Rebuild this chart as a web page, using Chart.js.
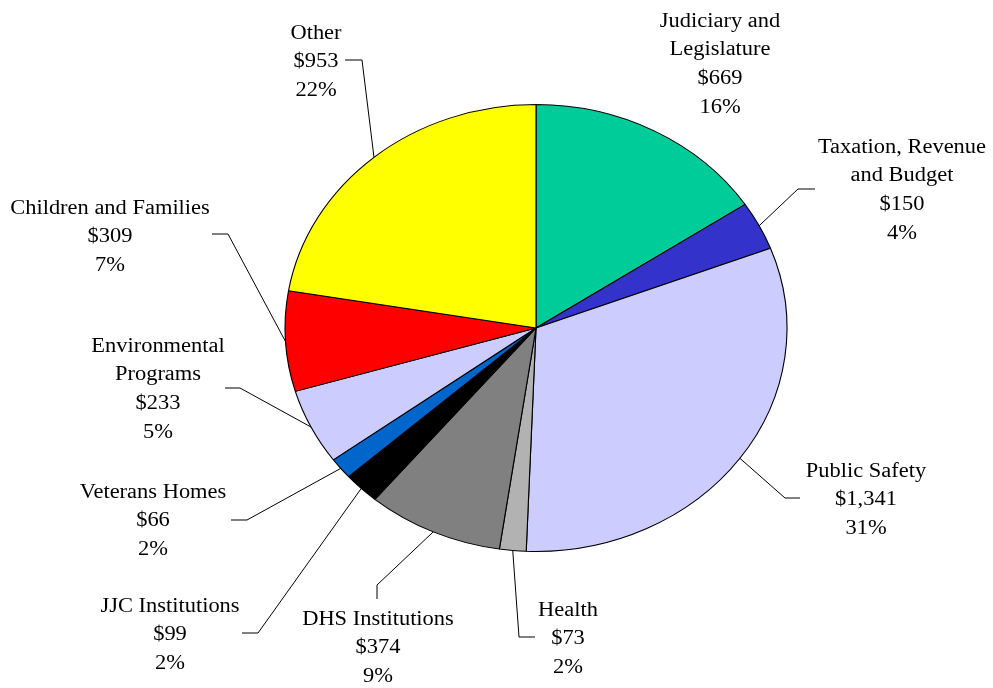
<!DOCTYPE html>
<html>
<head>
<meta charset="utf-8">
<script src="https://cdn.jsdelivr.net/npm/chart.js@4.4.1/dist/chart.umd.min.js"></script>
<style>
  body { margin: 0; background: #fff; }
  #wrap { width: 993px; height: 688px; position: relative; }
</style>
</head>
<body>
<div id="wrap"><canvas id="budget_pie"></canvas></div>
<script>
// slices, clockwise from 12 o'clock
let categories = ["Judiciary and Legislature", "Taxation, Revenue and Budget", "Public Safety", "Health",
    "DHS Institutions", "JJC Institutions", "Veterans Homes", "Environmental Programs",
    "Children and Families", "Other"];
let amounts = [669, 150, 1341, 73, 374, 99, 66, 233, 309, 953];
// how each category label is broken into lines
let labelLines = [
    ["Judiciary and", "Legislature"],
    ["Taxation, Revenue", "and Budget"],
    ["Public Safety"],
    ["Health"],
    ["DHS Institutions"],
    ["JJC Institutions"],
    ["Veterans Homes"],
    ["Environmental", "Programs"],
    ["Children and Families"],
    ["Other"]
];

let sliceColors = ["#00CC99", "#3333CC", "#CCCCFF", "#B2B2B2", "#808080",
    "#000000", "#0066CC", "#CCCCFF", "#FF0000", "#FFFF00"];

// label placement: text centre x, first line y, leader elbow x/y, leader end x/y
let labelPlace = [
    [720, 21.5, null, null, null, null],
    [902, 147.5, 798, 189, 815, 189],
    [866, 471.5, 785, 498, 800, 498],
    [568, 610.5, 519, 637, 535, 637],
    [378, 619.5, 377, 585, 377, 599],
    [170, 606.5, 258, 633, 242, 633],
    [153, 492.5, 247, 520, 231, 520],
    [158, 346.5, 240, 388, 225, 388],
    [110, 208.5, 228, 234, 212, 234],
    [316, 33.5, 362, 60, 345, 60]
];

const stretchX = 251 / 223.5; // the whole picture is a little wider than tall
const lineGap = 28.7;

let total = amounts.reduce((a, b) => a + b, 0);

const pieLabels = {
    id: "pieLabels",
    beforeDatasetsDraw(chart) {
        let arc = chart.getDatasetMeta(0).data[0];
        let ctx = chart.ctx;
        ctx.save();
        ctx.translate(arc.x, arc.y);
        ctx.scale(stretchX, 1);
        ctx.translate(-arc.x, -arc.y);
    },
    afterDatasetsDraw(chart) {
        let ctx = chart.ctx;
        ctx.restore();
        let arcs = chart.getDatasetMeta(0).data;
        ctx.save();
        ctx.fillStyle = "#000";
        ctx.strokeStyle = "#000";
        ctx.lineWidth = 1;
        ctx.font = "20px 'Liberation Serif', 'Times New Roman', serif";
        ctx.textAlign = "center";
        ctx.textBaseline = "middle";
        arcs.forEach(function (a, i) {
            let p = labelPlace[i];
            let lines = labelLines[i].concat([
                "$" + amounts[i].toLocaleString("en-US"),
                Math.round(amounts[i] / total * 100) + "%"
            ]);
            lines.forEach(function (t, k) {
                ctx.save();
                ctx.translate(p[0], p[1] + k * lineGap);
                ctx.scale(stretchX, 1);
                ctx.fillText(t, 0, 0);
                ctx.restore();
            });
            if (p[2] !== null) {
                let mid = (a.startAngle + a.endAngle) / 2;
                let ex = a.x + Math.cos(mid) * a.outerRadius * stretchX;
                let ey = a.y + Math.sin(mid) * a.outerRadius;
                ctx.beginPath();
                ctx.moveTo(ex, ey);
                ctx.lineTo(p[2], p[3]);
                ctx.lineTo(p[4], p[5]);
                ctx.stroke();
            }
        });
        ctx.restore();
    }
};

new Chart("budget_pie", {
    type: "pie",
    data: {
        labels: categories,
        datasets: [{
            data: amounts,
            backgroundColor: sliceColors,
            borderColor: "#000",
            borderWidth: 1
        }]
    },
    options: {
        responsive: true,
        maintainAspectRatio: false,
        animation: false,
        layout: {padding: {top: 104, bottom: 136, left: 312, right: 233}},
        plugins: {
            legend: {display: false},
            tooltip: {enabled: false}
        }
    },
    plugins: [pieLabels]
});
</script>
</body>
</html>
